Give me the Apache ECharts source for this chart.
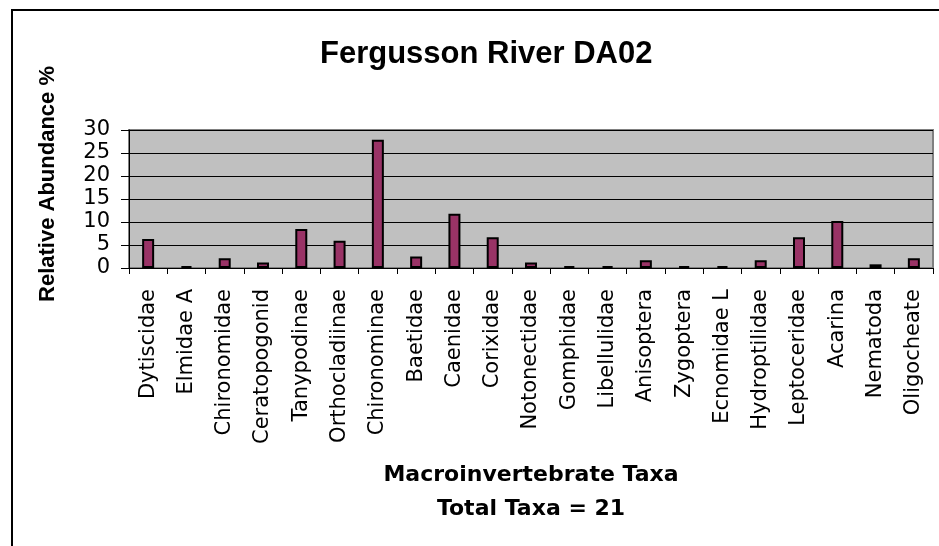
<!DOCTYPE html>
<html>
<head>
<meta charset="utf-8">
<script src="https://cdn.jsdelivr.net/npm/echarts@6/dist/echarts.min.js"></script>
<style>html,body{margin:0;padding:0;background:#fff;}#c{width:939px;height:546px;}</style>
</head>
<body>
<div id="c"></div>
<script>
var categories = ["Dytiscidae","Elmidae A","Chironomidae","Ceratopogonid","Tanypodinae","Orthocladiinae","Chironominae","Baetidae","Caenidae","Corixidae","Notonectidae","Gomphidae","Libellulidae","Anisoptera","Zygoptera","Ecnomidae L","Hydroptilidae","Leptoceridae","Acarina","Nematoda","Oligocheate"];
var abundance = [6.3,0.4,2.1,1.2,8.5,5.9,27.9,2.5,11.8,6.7,1.2,0.4,0.4,1.7,0.4,0.4,1.7,6.7,10.2,0.8,2.1];
var yTicks = [0,5,10,15,20,25,30];
var titleText = "Fergusson River DA02";
var yName = "Relative Abundance %";
var xName = "Macroinvertebrate Taxa\nTotal Taxa = 21";

var chart = echarts.init(document.getElementById('c'), null, {renderer:'canvas'});
chart.setOption({
  animation:false,
  backgroundColor:'#ffffff',
  title:{
    text:titleText,
    left:315, top:34,
    textStyle:{fontFamily:'Liberation Sans', fontWeight:'bold', fontSize:31, color:'#000'}
  },
  graphic:[
    {type:'rect', shape:{x:12,y:10,width:1000,height:1000}, style:{fill:null, stroke:'#000', lineWidth:2}, z:-1},
    {type:'text', x:48, y:184, rotation:Math.PI/2,
     style:{text:yName, fontFamily:'Liberation Sans', fontWeight:'bold', fontSize:22, fill:'#000', align:'center', verticalAlign:'middle'}}
  ],
  grid:{left:129, right:6, top:130, bottom:278, show:true, backgroundColor:'#C0C0C0', borderColor:'#808080', borderWidth:2},
  xAxis:{
    type:'category', data:categories, boundaryGap:true,
    name:xName, nameLocation:'middle', nameGap:190,
    nameTextStyle:{fontFamily:'DejaVu Sans', fontWeight:'bold', fontSize:22, color:'#000', lineHeight:34},
    axisLine:{lineStyle:{color:'#000', width:1}},
    axisTick:{show:true, length:6, alignWithLabel:false, lineStyle:{color:'#000'}},
    axisLabel:{rotate:90, interval:0, margin:21, fontFamily:'DejaVu Sans', fontSize:21, color:'#000'}
  },
  yAxis:{
    type:'value', min:0, max:30, interval:5,
    axisLine:{show:true, lineStyle:{color:'#000', width:1}},
    axisTick:{show:true, length:8, lineStyle:{color:'#000'}},
    axisLabel:{margin:19, fontFamily:'DejaVu Sans', fontSize:21, color:'#000',
      formatter:function(v){ return yTicks.indexOf(v)>=0 ? String(v) : ''; }},
    splitLine:{show:true, lineStyle:{color:'#000', width:1}}
  },
  series:[{
    type:'bar', data:abundance, barWidth:12,
    itemStyle:{color:'#993366', borderColor:'#000', borderWidth:2}
  }]
});
</script>
</body>
</html>
